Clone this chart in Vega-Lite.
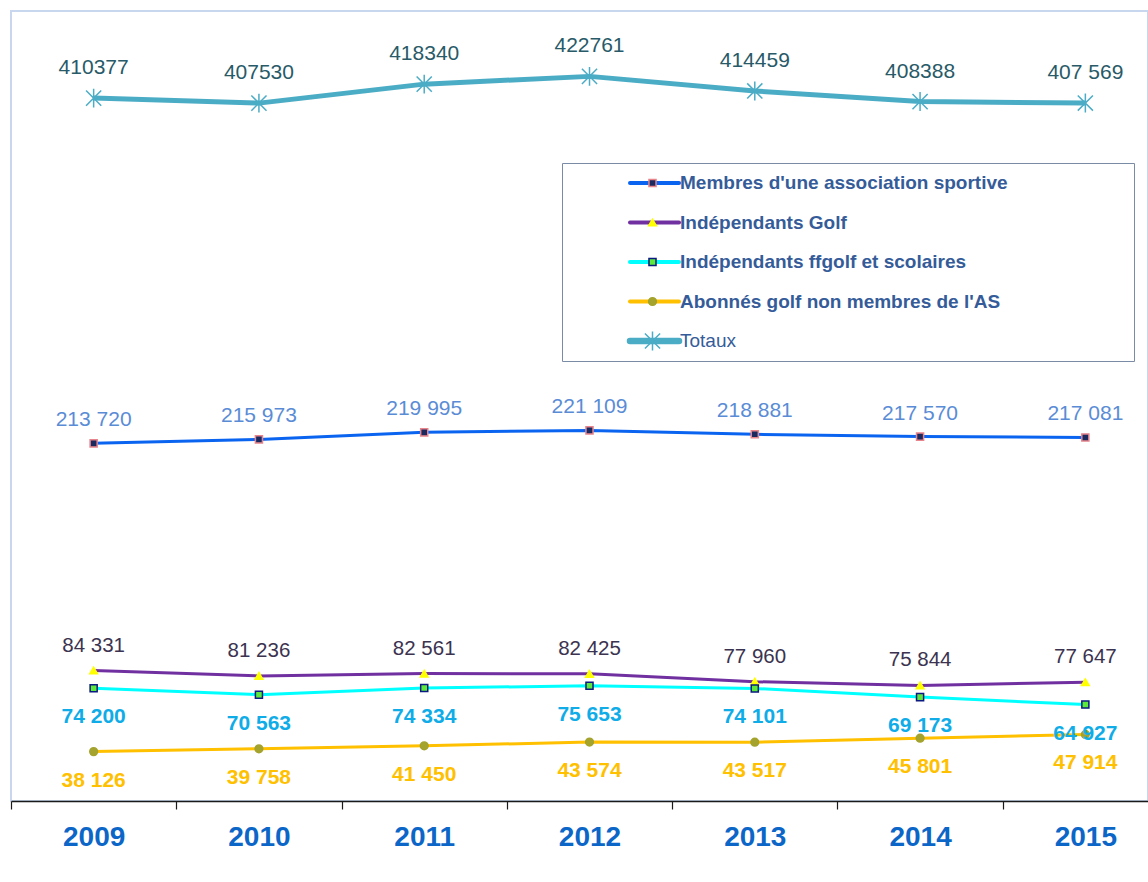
{
  "$schema": "https://vega.github.io/schema/vega-lite/v6.json",
  "width": 1137,
  "height": 790,
  "autosize": {"type": "none"},
  "padding": {"left": 11, "top": 11, "right": 0, "bottom": 81},
  "background": "white",
  "config": {
    "view": {"stroke": "#C8D7EE", "strokeWidth": 2},
    "font": "Liberation Sans"
  },
  "data": {
    "values": [
      {"year": 2009, "series": "Membres d'une association sportive", "value": 213720, "label": "213 720"},
      {"year": 2010, "series": "Membres d'une association sportive", "value": 215973, "label": "215 973"},
      {"year": 2011, "series": "Membres d'une association sportive", "value": 219995, "label": "219 995"},
      {"year": 2012, "series": "Membres d'une association sportive", "value": 221109, "label": "221 109"},
      {"year": 2013, "series": "Membres d'une association sportive", "value": 218881, "label": "218 881"},
      {"year": 2014, "series": "Membres d'une association sportive", "value": 217570, "label": "217 570"},
      {"year": 2015, "series": "Membres d'une association sportive", "value": 217081, "label": "217 081"},
      {"year": 2009, "series": "Indépendants Golf", "value": 84331, "label": "84 331"},
      {"year": 2010, "series": "Indépendants Golf", "value": 81236, "label": "81 236"},
      {"year": 2011, "series": "Indépendants Golf", "value": 82561, "label": "82 561"},
      {"year": 2012, "series": "Indépendants Golf", "value": 82425, "label": "82 425"},
      {"year": 2013, "series": "Indépendants Golf", "value": 77960, "label": "77 960"},
      {"year": 2014, "series": "Indépendants Golf", "value": 75844, "label": "75 844"},
      {"year": 2015, "series": "Indépendants Golf", "value": 77647, "label": "77 647"},
      {"year": 2009, "series": "Indépendants ffgolf et scolaires", "value": 74200, "label": "74 200"},
      {"year": 2010, "series": "Indépendants ffgolf et scolaires", "value": 70563, "label": "70 563"},
      {"year": 2011, "series": "Indépendants ffgolf et scolaires", "value": 74334, "label": "74 334"},
      {"year": 2012, "series": "Indépendants ffgolf et scolaires", "value": 75653, "label": "75 653"},
      {"year": 2013, "series": "Indépendants ffgolf et scolaires", "value": 74101, "label": "74 101"},
      {"year": 2014, "series": "Indépendants ffgolf et scolaires", "value": 69173, "label": "69 173"},
      {"year": 2015, "series": "Indépendants ffgolf et scolaires", "value": 64927, "label": "64 927"},
      {"year": 2009, "series": "Abonnés golf non membres de l'AS", "value": 38126, "label": "38 126"},
      {"year": 2010, "series": "Abonnés golf non membres de l'AS", "value": 39758, "label": "39 758"},
      {"year": 2011, "series": "Abonnés golf non membres de l'AS", "value": 41450, "label": "41 450"},
      {"year": 2012, "series": "Abonnés golf non membres de l'AS", "value": 43574, "label": "43 574"},
      {"year": 2013, "series": "Abonnés golf non membres de l'AS", "value": 43517, "label": "43 517"},
      {"year": 2014, "series": "Abonnés golf non membres de l'AS", "value": 45801, "label": "45 801"},
      {"year": 2015, "series": "Abonnés golf non membres de l'AS", "value": 47914, "label": "47 914"},
      {"year": 2009, "series": "Totaux", "value": 410377, "label": "410377"},
      {"year": 2010, "series": "Totaux", "value": 407530, "label": "407530"},
      {"year": 2011, "series": "Totaux", "value": 418340, "label": "418340"},
      {"year": 2012, "series": "Totaux", "value": 422761, "label": "422761"},
      {"year": 2013, "series": "Totaux", "value": 414459, "label": "414459"},
      {"year": 2014, "series": "Totaux", "value": 408388, "label": "408388"},
      {"year": 2015, "series": "Totaux", "value": 407569, "label": "407 569"}
    ]
  },
  "encoding": {
    "x": {
      "field": "year",
      "type": "ordinal",
      "scale": {"type": "band", "range": [0, 1157], "paddingInner": 0, "paddingOuter": 0},
      "axis": {
        "title": null,
        "grid": false,
        "domainColor": "#1a1a1a",
        "domainWidth": 1.5,
        "tickColor": "#1a1a1a",
        "tickSize": 8,
        "tickWidth": 1.2,
        "tickBand": "extent",
        "labelFont": "Liberation Sans",
        "labelFontSize": 28,
        "labelFontWeight": "bold",
        "labelColor": "#0B66C8",
        "labelPadding": 14,
        "labelAngle": 0
      }
    },
    "y": {
      "field": "value",
      "type": "quantitative",
      "scale": {"domain": [10000, 460000], "nice": false, "zero": false},
      "axis": null
    }
  },
  "layer": [
    {
      "mark": {"type": "line", "strokeJoin": "round"},
      "encoding": {
        "color": {
          "field": "series",
          "type": "nominal",
          "sort": ["Membres d'une association sportive", "Indépendants Golf", "Indépendants ffgolf et scolaires", "Abonnés golf non membres de l'AS", "Totaux"],
          "scale": {"range": ["#0A64F0", "#7030A0", "#00FFFF", "#FFC000", "#4BACC6"]},
          "legend": {
            "title": null,
            "orient": "none",
            "legendX": 551,
            "legendY": 152,
            "direction": "vertical",
            "padding": 10,
            "clipHeight": 20,
            "strokeColor": "#7A8BA6",
            "fillColor": "white",
            "symbolType": "stroke",
            "symbolSize": 2401,
            "symbolStrokeWidth": 4,
            "symbolOffset": 73,
            "labelFont": "Liberation Sans",
            "labelFontSize": 19,
            "labelFontWeight": "bold",
            "labelColor": "#355C99",
            "labelOffset": 16,
            "rowPadding": 19.5,
            "labelLimit": 1000,
            "labelExpr": "indexof(datum.label, 'Membres') === 0 ? datum.label + '\u00a0\u00a0\u00a0\u00a0\u00a0\u00a0\u00a0\u00a0\u00a0\u00a0\u00a0\u00a0\u00a0\u00a0\u00a0\u00a0\u00a0\u00a0\u00a0\u00a0\u00a0\u00a0\u200b' : datum.label",
            "encode": {
              "labels": {
                "update": {
                  "fontWeight": {"signal": "datum.value === 'Totaux' ? 'normal' : 'bold'"}
                }
              },
              "symbols": {"update": {"strokeWidth": {"signal": "datum.value === 'Totaux' ? 6.5 : 4"}, "strokeCap": {"value": "round"}}}
            }
          }
        },
        "strokeWidth": {"condition": {"test": "datum.series === 'Totaux'", "value": 5}, "value": 3}
      }
    },
    {
      "mark": {"type": "point", "filled": true, "opacity": 1, "strokeWidth": 1.5},
      "encoding": {
        "shape": {
          "field": "series",
          "type": "nominal",
          "scale": {
            "domain": ["Membres d'une association sportive", "Indépendants Golf", "Indépendants ffgolf et scolaires", "Abonnés golf non membres de l'AS", "Totaux"],
            "range": ["square", "triangle-up", "square", "circle", "M0,-1V1M-0.8,-0.8L0.8,0.8M-0.8,0.8L0.8,-0.8"]
          }
        },
        "fill": {
          "field": "series",
          "type": "nominal",
          "scale": {
            "domain": ["Membres d'une association sportive", "Indépendants Golf", "Indépendants ffgolf et scolaires", "Abonnés golf non membres de l'AS", "Totaux"],
            "range": ["#1B2A5E", "#FFFF00", "#5EE83A", "#A3A32E", "transparent"]
          },
          "legend": {
            "title": null,
            "orient": "none",
            "legendX": 551,
            "legendY": 152,
            "direction": "vertical",
            "padding": 10,
            "clipHeight": 20,
            "symbolOffset": 70,
            "symbolStrokeWidth": 1.5,
            "symbolOpacity": 1,
            "labelFont": "Liberation Sans",
            "labelFontSize": 19,
            "labelExpr": "''",
            "labelOffset": 5,
            "rowPadding": 19.5,
            "labelLimit": 1000,
            "encode": {
              "symbols": {"update": {"size": {"signal": "datum.value === 'Totaux' ? 170 : scale('size', datum.value)"}}}
            }
          }
        },
        "stroke": {
          "field": "series",
          "type": "nominal",
          "scale": {
            "domain": ["Membres d'une association sportive", "Indépendants Golf", "Indépendants ffgolf et scolaires", "Abonnés golf non membres de l'AS", "Totaux"],
            "range": ["#E8848C", "#FFFF00", "#0A1A80", "#A3A32E", "#4BACC6"]
          }
        },
        "size": {
          "field": "series",
          "type": "nominal",
          "scale": {
            "type": "ordinal",
            "domain": ["Membres d'une association sportive", "Indépendants Golf", "Indépendants ffgolf et scolaires", "Abonnés golf non membres de l'AS", "Totaux"],
            "range": [50, 60, 50, 60, 360]
          }
        }
      }
    },
    {
      "transform": [{"filter": "datum.series === 'Totaux'"}],
      "mark": {"type": "text", "dy": -24, "baseline": "alphabetic", "fontSize": 21, "color": "#285A68", "font": "Liberation Sans"},
      "encoding": {"text": {"field": "label"}}
    },
    {
      "transform": [{"filter": "indexof(datum.series, 'Membres') === 0"}],
      "mark": {"type": "text", "dy": -17, "baseline": "alphabetic", "fontSize": 21, "color": "#5A8CD6", "font": "Liberation Sans"},
      "encoding": {"text": {"field": "label"}}
    },
    {
      "transform": [{"filter": "datum.series === 'Indépendants Golf'"}],
      "mark": {"type": "text", "dy": -19, "baseline": "alphabetic", "fontSize": 20.5, "color": "#3B3350", "font": "Liberation Sans"},
      "encoding": {"text": {"field": "label"}}
    },
    {
      "transform": [{"filter": "indexof(datum.series, 'ffgolf') >= 0"}],
      "mark": {"type": "text", "dy": 35, "baseline": "alphabetic", "fontSize": 21, "fontWeight": "bold", "color": "#10ACE8", "font": "Liberation Sans"},
      "encoding": {"text": {"field": "label"}}
    },
    {
      "transform": [{"filter": "indexof(datum.series, 'Abonn') === 0"}],
      "mark": {"type": "text", "dy": 35, "baseline": "alphabetic", "fontSize": 21, "fontWeight": "bold", "color": "#FFC000", "font": "Liberation Sans"},
      "encoding": {"text": {"field": "label"}}
    }
  ]
}
